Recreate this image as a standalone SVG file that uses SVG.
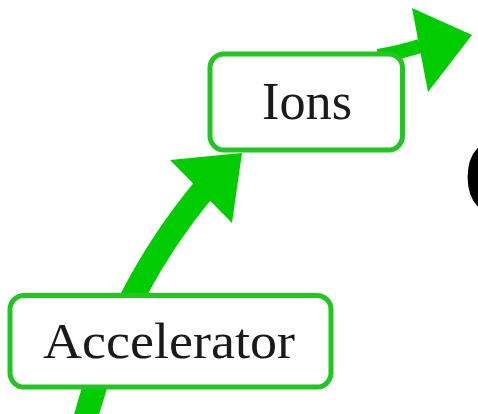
<svg xmlns="http://www.w3.org/2000/svg" width="478" height="414" viewBox="0 0 478 414">
<style>
.box{fill:#fff;stroke:#22c522;stroke-width:5}
.lbl{font-family:"Liberation Serif","Times New Roman",serif;fill:#1a1a1a;text-anchor:middle}
.conn{fill:none;stroke:#00cc00}
.head{fill:#00cc00}
</style>
<rect width="478" height="414" fill="#fff"/>
<g id="connectors">
<path class="conn" d="M 85 420 Q 120 290 205 188" stroke-width="24"/>
<polygon class="head" points="170,160 242,153 232,223"/>
<path class="conn" d="M 378 56 Q 398 53 420 46" stroke-width="14"/>
<polygon class="head" points="412,8 472,35 428,92"/>
</g>
<g id="accelerator">
<rect class="box" x="10" y="295.5" width="321" height="91.5" rx="14"/>
<text class="lbl" x="169" y="358" font-size="50" textLength="252" lengthAdjust="spacingAndGlyphs">Accelerator</text>
</g>
<g id="ions">
<rect class="box" x="210" y="54" width="192.5" height="96" rx="14"/>
<text class="lbl" x="307" y="119" font-size="52" textLength="90" lengthAdjust="spacingAndGlyphs">Ions</text>
</g>
<text x="463" y="216" font-family="Liberation Sans, Arial, sans-serif" font-weight="bold" font-size="112" fill="#000">C</text>
</svg>
